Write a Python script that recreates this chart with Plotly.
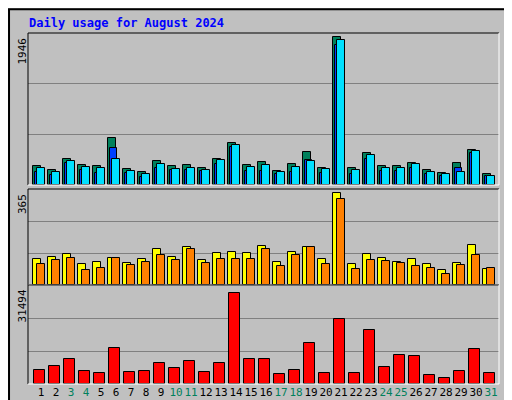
import plotly.graph_objects as go

days = list(range(1, 32))
weekend = [3, 4, 10, 11, 17, 18, 24, 25, 31]

hits = [254, 201, 346, 267, 254, 622, 215, 175, 320, 254, 267, 228, 346, 556, 267, 307,
        188, 280, 438, 228, 1946, 228, 425, 254, 254, 293, 201, 162, 293, 464, 149]
files = [175, 136, 293, 201, 162, 491, 162, 110, 228, 201, 201, 188, 280, 504, 188, 188,
         149, 175, 333, 162, 1844, 149, 346, 188, 188, 228, 149, 123, 228, 425, 123]
pages = [228, 175, 320, 241, 228, 346, 188, 149, 280, 215, 228, 201, 333, 530, 241, 267,
         175, 241, 320, 215, 1910, 201, 399, 228, 228, 280, 175, 149, 175, 451, 123]
visits = [101, 112, 124, 84, 92, 108, 88, 104, 144, 112, 151, 100, 128, 132, 128, 155,
          92, 132, 151, 104, 365, 84, 124, 108, 92, 104, 84, 61, 88, 159, 65]
sites = [84, 100, 108, 61, 68, 108, 80, 92, 120, 100, 144, 88, 104, 104, 104, 144,
         76, 120, 151, 84, 341, 65, 100, 96, 88, 76, 68, 45, 80, 120, 68]
kbytes = [4940, 6320, 8730, 4600, 3910, 12520, 4250, 4600, 7350, 5630, 8040, 4250, 7350,
          31494, 8730, 8730, 3560, 4940, 14250, 3910, 22520, 3910, 18730, 5970, 10110,
          9770, 3220, 2180, 4600, 12180, 3910]

W, H = 512, 400
GRAY = "#C0C0C0"
GRID = "#808080"
MONO = "DejaVu Sans Mono"

fig = go.Figure()


def bars(vals, color, offset, width, ax):
    fig.add_trace(go.Bar(
        x=days, y=vals, offset=offset, width=width, xaxis="x" + ax, yaxis="y" + ax,
        marker=dict(color=color, line=dict(color="black", width=1)),
        hoverinfo="y",
    ))


bars(hits, "#00805C", -0.27, 0.51, "")
bars(files, "#0040FF", -0.13, 0.45, "")
bars(pages, "#00E0FF", 0.02, 0.49, "")
bars(visits, "#FFFF00", -0.27, 0.51, "2")
bars(sites, "#FF8000", 0.02, 0.49, "2")
bars(kbytes, "#FF0000", -0.2, 0.71, "3")

x0, x1 = 20 / W, 491 / W
panels = [(25, 177, 1946 * 152 / 148), (181, 277, 365 * 96 / 92.4), (277, 376, 31494 * 99 / 91.4)]
maxlabels = ["1946", "365", "31494"]

ticktext = []
for d in days:
    c = "#00805C" if d in weekend else "black"
    ticktext.append(f"<span style='color:{c}'>{d}</span>")

layout = dict(
    width=W, height=H, margin=dict(l=0, r=0, t=0, b=0),
    paper_bgcolor=GRAY, plot_bgcolor=GRAY, showlegend=False,
    barmode="overlay", bargap=0,
    font=dict(family=MONO, size=11, color="black"),
)
names = ["", "2", "3"]
for i, (top, bot, rng) in enumerate(panels):
    n = names[i]
    layout["xaxis" + n] = dict(
        domain=[x0, x1], range=[0.4, 31.8], anchor="y" + n, fixedrange=True,
        showgrid=False, zeroline=False,
        showticklabels=(i == 2), tickvals=[d + 0.27 for d in days], ticktext=ticktext,
        ticks="", tickangle=0, ticklen=0, automargin=False,
        tickfont=dict(family=MONO, size=11),
    )
    layout["yaxis" + n] = dict(
        domain=[1 - bot / H, 1 - top / H], range=[0, rng], anchor="x" + n,
        tickvals=[rng / 3, 2 * rng / 3], showticklabels=False, ticks="",
        showgrid=True, gridcolor=GRID, gridwidth=1, zeroline=False, fixedrange=True,
    )
fig.update_layout(**layout)

shapes = [
    dict(type="rect", xref="paper", yref="paper", x0=0.002, y0=0.003, x1=0.998, y1=0.997,
         line=dict(color="black", width=2)),
    dict(type="line", xref="paper", yref="paper", x0=0.012, y0=0.012, x1=0.988, y1=0.012,
         line=dict(color="#808080", width=3)),
    dict(type="line", xref="paper", yref="paper", x0=0.988, y0=0.012, x1=0.988, y1=0.985,
         line=dict(color="#808080", width=3)),
]
for top, bot, _ in panels:
    ya, yb = 1 - bot / H, 1 - top / H
    shapes += [
        dict(type="line", xref="paper", yref="paper", x0=x0, x1=x1, y0=yb, y1=yb,
             line=dict(color="black", width=1)),
        dict(type="line", xref="paper", yref="paper", x0=x0, x1=x0, y0=ya, y1=yb,
             line=dict(color="black", width=1)),
        dict(type="line", xref="paper", yref="paper", x0=x0, x1=x1, y0=ya, y1=ya,
             line=dict(color="white", width=1)),
        dict(type="line", xref="paper", yref="paper", x0=x1, x1=x1, y0=ya, y1=yb,
             line=dict(color="white", width=1)),
    ]
fig.update_layout(shapes=shapes)

ann = [dict(text="<b>Daily usage for August 2024</b>", x=19 / W, y=1 - 6 / H,
            xref="paper", yref="paper", xanchor="left", yanchor="top", showarrow=False,
            font=dict(family=MONO, size=12, color="#0000FF"))]
for (top, bot, _), lab in zip(panels, maxlabels):
    ann.append(dict(text=lab, x=14 / W, y=1 - (top + 3) / H, xref="paper", yref="paper",
                    xanchor="center", yanchor="top", textangle=-90, showarrow=False,
                    font=dict(family=MONO, size=11, color="black")))
right = [
    ("<span style='color:#00E0FF'>Pages</span> / <span style='color:#0040FF'>Files</span>"
     " / <span style='color:#00805C'>Hits</span>", 25),
    ("<span style='color:#FF8000'>Sites</span> / <span style='color:#FFFF00'>Visits</span>", 181),
    ("<span style='color:#FF0000'>KBytes</span>", 277),
]
for text, top in right:
    ann.append(dict(text=text, x=493 / W, y=1 - (top + 2) / H, xref="paper", yref="paper",
                    xanchor="left", yanchor="top", textangle=-90, showarrow=False,
                    font=dict(family=MONO, size=11, color="black")))
fig.update_layout(annotations=ann)

fig.write_html("out.html")
